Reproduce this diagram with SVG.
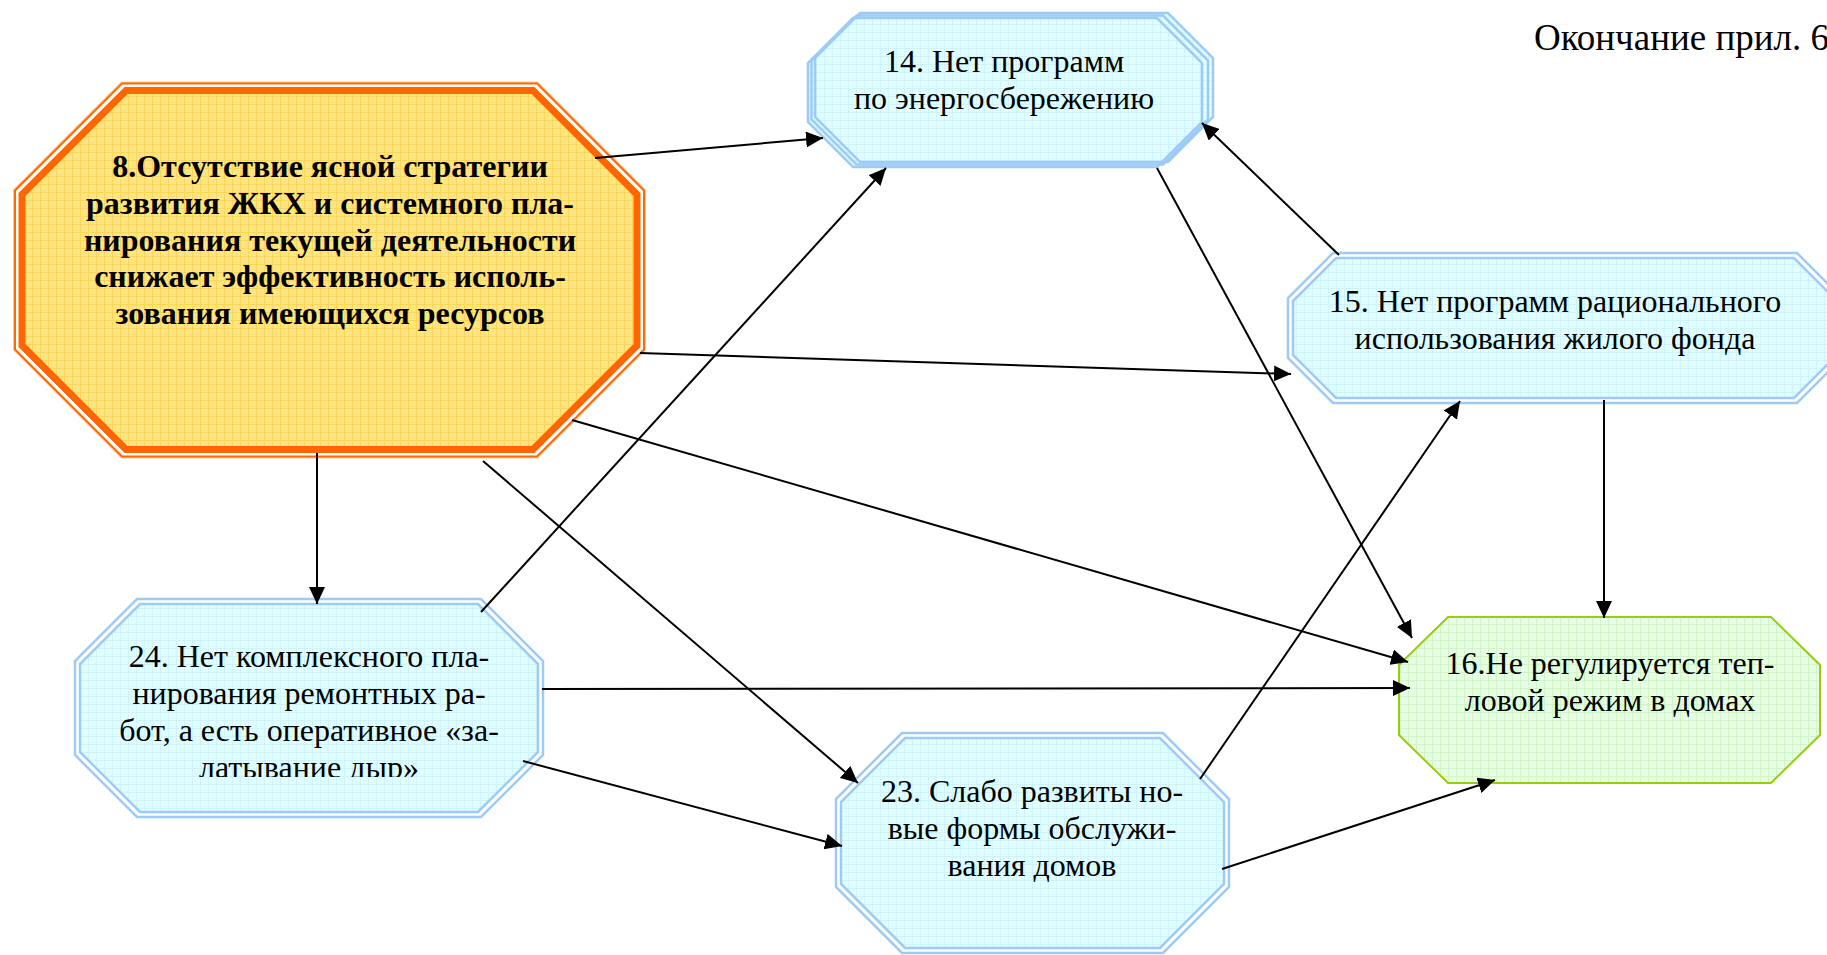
<svg xmlns="http://www.w3.org/2000/svg" width="1827" height="955" viewBox="0 0 1827 955">
<style>
  text { font-family: "Liberation Serif", "Times New Roman", serif; font-size: 32px; fill: #000; text-anchor: middle; }
  .b { font-weight: bold; }
  .conn line { stroke: #000; stroke-width: 2; fill: none; marker-end: url(#arr); }
  .blueLine { stroke: #9ECBF5; stroke-width: 2.5; }
  .nofill { fill: none; }
  .white { fill: #fff; }
  .bfill { fill: url(#gB); }
</style>
<defs>
  <pattern id="gY" width="8" height="8" patternUnits="userSpaceOnUse">
    <rect width="8" height="8" fill="#FFE582"/>
    <path d="M0 0.5H8M0.5 0V8" stroke="#F9D250" stroke-width="1" opacity="0.8"/>
  </pattern>
  <pattern id="gB" width="8" height="8" patternUnits="userSpaceOnUse">
    <rect width="8" height="8" fill="#DFFEFF"/>
    <path d="M0 0.5H8M0.5 0V8" stroke="#D0F3FA" stroke-width="1"/>
  </pattern>
  <pattern id="gG" width="8" height="8" patternUnits="userSpaceOnUse">
    <rect width="8" height="8" fill="#E6FFE2"/>
    <path d="M0 0.5H8M0.5 0V8" stroke="#D0F5C8" stroke-width="1"/>
  </pattern>
  <marker id="arr" markerUnits="userSpaceOnUse" markerWidth="18" markerHeight="16" viewBox="0 0 18 16" refX="17" refY="8" orient="auto">
    <path d="M0,0 L17,8 L0,16 z" fill="#000"/>
  </marker>
  <clipPath id="clip24">
    <rect x="60" y="590" width="500" height="187"/>
  </clipPath>
</defs>
<rect width="1827" height="955" fill="#fff"/>

<text x="1534" y="50" style="text-anchor:start;font-size:37px">Окончание прил. 6</text>

<g id="node8">
  <polygon points="122,83.5 537,83.5 644,190.5 644,349.5 537,456.5 122,456.5 15,349.5 15,190.5" fill="#fff" stroke="#FFC9A3" stroke-width="4"/>
  <polygon points="122,83.5 537,83.5 644,190.5 644,349.5 537,456.5 122,456.5 15,349.5 15,190.5" fill="#fff" stroke="#FF6A00" stroke-width="2"/>
  <polygon points="126,90.5 533,90.5 637,194.5 637,345.5 533,449.5 126,449.5 22,345.5 22,194.5" fill="url(#gY)" stroke="#FF6600" stroke-width="7"/>
  <text class="b" x="330" y="177">8.Отсутствие ясной стратегии</text>
  <text class="b" x="330" y="213.8">развития ЖКХ и системного пла-</text>
  <text class="b" x="330" y="250.6">нирования текущей деятельности</text>
  <text class="b" x="330" y="287.4">снижает эффективность исполь-</text>
  <text class="b" x="330" y="324.2">зования имеющихся ресурсов</text>
</g>

<g id="node14">
  <polygon class="bfill" points="860,13 1168,13 1213,58 1213,117 1168,162 860,162 815,117 815,58"/>
  <polygon class="bfill" points="853,18 1157,18 1202,63 1202,122 1157,167 853,167 808,122 808,63"/>
  <polygon class="blueLine nofill" points="860,13 1168,13 1213,58 1213,117 1168,162 860,162 815,117 815,58"/>
  <polygon class="blueLine nofill" points="856.5,15.5 1163,15.5 1208,60.5 1208,119.5 1163,164.5 856.5,164.5 811.5,119.5 811.5,60.5"/>
  <polygon class="blueLine nofill" points="853,18 1157,18 1202,63 1202,122 1157,167 853,167 808,122 808,63"/>
  <text x="1004" y="72">14. Нет программ</text>
  <text x="1004" y="108.8">по энергосбережению</text>
</g>

<g id="node15">
  <polygon class="blueLine white" points="1333,253 1797,253 1842,298 1842,358 1797,403 1333,403 1288,358 1288,298"/>
  <polygon class="blueLine bfill" points="1336,258 1794,258 1837,301 1837,355 1794,398 1336,398 1293,355 1293,301"/>
  <text x="1555" y="312">15. Нет программ рационального</text>
  <text x="1555" y="348.8">использования жилого фонда</text>
</g>

<g id="node24">
  <polygon class="blueLine white" points="137,599 481,599 543,661 543,755 481,817 137,817 75,755 75,661"/>
  <polygon class="blueLine bfill" points="140,604 478,604 538,664 538,752 478,812 140,812 80,752 80,664"/>
  <g clip-path="url(#clip24)">
    <text x="309" y="667">24. Нет комплексного пла-</text>
    <text x="309" y="704">нирования ремонтных ра-</text>
    <text x="309" y="741">бот, а есть оперативное «за-</text>
    <text x="309" y="778">латывание дыр»</text>
  </g>
</g>

<g id="node23">
  <polygon class="blueLine white" points="902,733 1163,733 1229,799 1229,887 1163,953 902,953 836,887 836,799"/>
  <polygon class="blueLine bfill" points="905,738 1160,738 1224,802 1224,884 1160,948 905,948 841,884 841,802"/>
  <text x="1032" y="802">23. Слабо развиты но-</text>
  <text x="1032" y="838.8">вые формы обслужи-</text>
  <text x="1032" y="875.6">вания домов</text>
</g>

<g id="node16">
  <polygon points="1448,617 1771,617 1820,665 1820,735 1771,783 1448,783 1399,735 1399,665" fill="url(#gG)" stroke="#99CC11" stroke-width="2"/>
  <text x="1610" y="674">16.Не регулируется теп-</text>
  <text x="1610" y="710.8">ловой режим в домах</text>
</g>

<g id="connectors" class="conn">
  <line x1="595" y1="158" x2="823" y2="138"/>
  <line x1="640" y1="353" x2="1291" y2="374"/>
  <line x1="572" y1="420" x2="1408" y2="662"/>
  <line x1="317" y1="453" x2="317" y2="604"/>
  <line x1="483" y1="461" x2="858" y2="783"/>
  <line x1="481" y1="612" x2="886" y2="168"/>
  <line x1="542" y1="689" x2="1410" y2="688"/>
  <line x1="523" y1="761" x2="842" y2="846"/>
  <line x1="1157" y1="168" x2="1412" y2="638"/>
  <line x1="1339" y1="255" x2="1202" y2="123"/>
  <line x1="1604" y1="400" x2="1604" y2="618"/>
  <line x1="1200" y1="779" x2="1460" y2="401"/>
  <line x1="1222" y1="869" x2="1495" y2="780"/>
</g>
</svg>
